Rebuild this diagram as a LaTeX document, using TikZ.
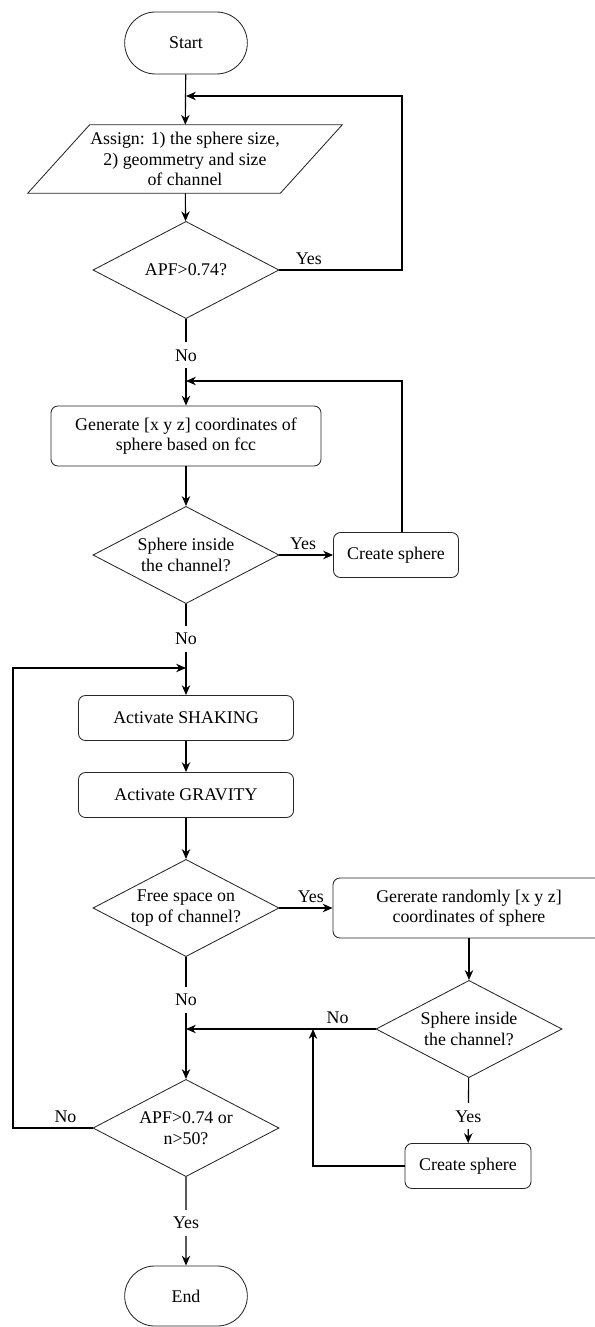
\documentclass[tikz,border=0pt]{standalone}
\usepackage{fontspec}
\setmainfont{Liberation Serif}
\usetikzlibrary{shapes.geometric,shapes.misc,arrows.meta}

\begin{document}
\begin{tikzpicture}[
  x=0.025cm, y=-0.025cm,
  >={Stealth[length=7pt,width=6pt]},
  font=\fontsize{12.7}{14.5}\selectfont,
  terminal/.style={
    draw=black!85,
    line width=0.6pt,
    rounded rectangle,
    minimum width=3.3cm,
    minimum height=1.55cm
  },
  io/.style={
    minimum width=6.3cm,
    minimum height=1.7cm,
    align=center
  },
  slanted/.style={
    draw=black!85,
    line width=0.6pt
  },
  decision/.style={
    draw=black!85,
    line width=0.6pt,
    diamond,
    aspect=1.9,
    inner sep=0pt,
    minimum width=4.65cm,
    minimum height=2.43cm,
    align=center
  },
  process/.style={
    draw=black!85,
    line width=0.6pt,
    rounded corners=5pt,
    minimum height=1.125cm,
    align=center
  },
  flow/.style={->, line width=0.8pt},
  gap/.style={fill=white, inner xsep=1pt, inner ysep=5pt}
]

  \useasboundingbox (0,0) rectangle (594,1327);

  % Main column
  \node[terminal] (start) at (186,43) {Start};
  \node[io] (assign) at (185,159) {Assign: 1) the sphere size,\\2) geommetry and size\\of channel};
  \draw[slanted] ([xshift=0.775cm]assign.north west) -- ([xshift=0.775cm]assign.north east)
    -- ([xshift=-0.775cm]assign.south east) -- ([xshift=-0.775cm]assign.south west) -- cycle;
  \node[decision] (apf) at (186,270) {APF>0.74?};
  \node[process, minimum width=6.75cm, minimum height=1.5cm] (genfcc) at (186,436) {Generate [x y z] coordinates of\\sphere based on fcc};
  \node[decision] (insideA) at (186,555) {Sphere inside\\the channel?};
  \node[process, minimum width=3.125cm] (createA) at (396,555) {Create sphere};
  \node[process, minimum width=5.375cm] (shaking) at (186,718) {Activate SHAKING};
  \node[process, minimum width=5.375cm] (gravity) at (186,795) {Activate GRAVITY};
  \node[decision] (freespace) at (186,908) {Free space on\\top of channel?};
  \node[process, minimum width=6.8cm, minimum height=1.5cm] (genrand) at (469,908) {Gererate randomly [x y z]\\coordinates of sphere};
  \node[decision] (insideB) at (469,1029) {Sphere inside\\the channel?};
  \node[process, minimum width=3.15cm] (createB) at (468,1166) {Create sphere};
  \node[decision] (stopcheck) at (186,1128) {APF>0.74 or\\n>50?};
  \node[terminal, minimum height=1.5cm] (end) at (186,1296) {End};

  % Junctions
  \coordinate (joinA) at (186,96);
  \coordinate (turnA) at (402,96);
  \coordinate (joinB) at (186,381);
  \coordinate (turnB) at (402,381);
  \coordinate (joinC) at (186,668);
  \coordinate (turnC) at (13,668);
  \coordinate (joinD) at (186,1029);
  \coordinate (joinE) at (313,1029);

  \draw[flow] (start) -- (assign);
  \draw[flow] (assign) -- (apf);
  \draw[flow] (apf.east) -| node[above, pos=0.12] {Yes} (turnA) -- (joinA);
  \draw[flow] (apf) -- node[gap, pos=0.42] {No} (genfcc);
  \draw[flow] (genfcc) -- (insideA);
  \draw[flow] (insideA) -- node[above, pos=0.44] {Yes} (createA);
  \draw[flow] (createA.north -| turnB) -- (turnB) -- (joinB);
  \draw[flow] (insideA) -- node[gap, pos=0.38] {No} (shaking);
  \draw[flow] (shaking) -- (gravity);
  \draw[flow] (gravity) -- (freespace);
  \draw[flow] (freespace) -- node[above, pos=0.59] {Yes} (genrand);
  \draw[flow] (genrand) -- (insideB);
  \draw[flow] (insideB) -- node[above, pos=0.2] {No} (joinD);
  \draw[flow] (insideB) -- node[gap, pos=0.59] {Yes} (createB);
  \draw[flow] (createB.west) -| (joinE);
  \draw[flow] (freespace) -- node[gap, pos=0.35] {No} (stopcheck);
  \draw[flow] (stopcheck.west) -| node[above, pos=0.17] {No} (turnC) -- (joinC);
  \draw[flow] (stopcheck) -- node[gap, pos=0.52] {Yes} (end);

\end{tikzpicture}
\end{document}
